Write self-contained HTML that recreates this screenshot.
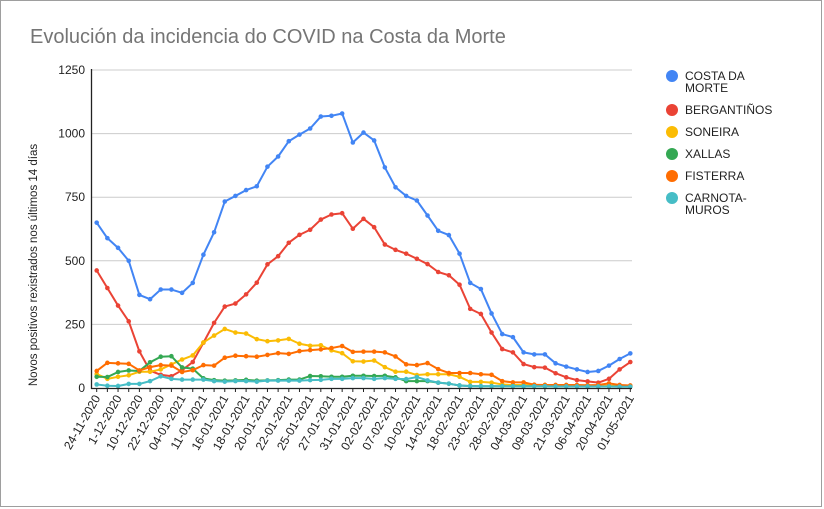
<!DOCTYPE html>
<html><head><meta charset="utf-8"><style>
html,body{margin:0;padding:0;background:#fff;}
svg{display:block;font-family:"Liberation Sans",Arial,sans-serif;}
</style></head><body>
<svg id="chart" width="824" height="509" viewBox="0 0 824 509">
<rect x="0.5" y="0.5" width="821" height="506" fill="#fff" stroke="#9e9e9e"/>
<text x="30" y="43" font-size="20" fill="#757575">Evolución da incidencia do COVID na Costa da Morte</text>
<text transform="translate(37,265) rotate(-90)" text-anchor="middle" font-size="11.5" fill="#222">Novos positivos rexistrados nos últimos 14 días</text>
<g id="grid"></g><g id="series"></g><g id="axes"></g><g id="legend"></g>
</svg>
<script>
const labels=["24-11-2020","1-12-2020","10-12-2020","22-12-2020","04-01-2021","11-01-2021","16-01-2021","18-01-2021","20-01-2021","22-01-2021","25-01-2021","27-01-2021","31-01-2021","02-02-2021","07-02-2021","10-02-2021","14-02-2021","18-02-2021","23-02-2021","28-02-2021","04-03-2021","09-03-2021","21-03-2021","06-04-2021","20-04-2021","01-05-2021"];
const yTicks=[0,250,500,750,1000,1250];
const seriesNames=["COSTA DA MORTE","BERGANTIÑOS","SONEIRA","XALLAS","FISTERRA","CARNOTA-MUROS"];
const costaDaMorte=[650,589,551,500,366,349,387,387,374,413,524,612,733,755,778,793,870,910,970,996,1020,1067,1070,1079,965,1004,973,867,789,755,737,678,618,601,528,413,389,293,212,200,140,132,132,97,84,73,63,67,88,114,136];
const bergantinos=[462,393,324,262,144,68,52,46,70,102,178,256,320,332,368,414,486,518,571,602,622,662,682,687,626,665,632,564,543,528,508,487,456,443,406,311,291,218,153,140,94,82,80,58,42,31,26,21,36,73,102];
const soneira=[55,36,44,50,64,64,73,93,112,128,179,206,232,218,214,192,184,187,193,174,166,168,148,137,105,104,108,82,64,64,51,54,54,54,44,24,24,21,14,12,12,12,12,11,11,10,10,10,9,8,8];
const xallas=[44,43,63,69,67,101,123,125,81,76,38,31,29,30,32,29,30,31,33,33,47,46,44,44,48,48,47,48,42,27,27,27,21,17,10,8,7,7,7,7,7,7,7,7,7,7,6,6,6,6,6];
const fisterra=[67,99,97,95,69,82,90,88,63,70,90,88,119,127,125,123,130,137,134,145,149,152,157,165,142,143,143,140,124,93,90,98,74,59,59,59,54,52,27,22,22,13,12,12,12,12,11,12,18,12,10];
const carnota=[14,9,8,16,16,27,46,36,33,33,33,27,25,27,27,25,29,29,29,29,31,32,36,36,39,39,36,39,36,35,43,30,21,17,10,7,7,7,7,7,7,7,7,6,6,6,6,6,6,5,5];
const seriesData=[costaDaMorte,bergantinos,soneira,xallas,fisterra,carnota];
const colors=["#4285f4","#ea4335","#fbbc04","#34a853","#ff6d01","#46bdc6"];
const NS="http://www.w3.org/2000/svg";
const X0=96.7,X1=630.3,Y0=388,Y1=70;
const n=costaDaMorte.length;
const xs=i=>X0+(X1-X0)*i/(n-1);
const ys=v=>Y0-(Y0-Y1)*v/1250;
function mk(t,a,p){const e=document.createElementNS(NS,t);for(const k in a)e.setAttribute(k,a[k]);p.appendChild(e);return e;}
const grid=document.getElementById('grid'),axes=document.getElementById('axes'),ser=document.getElementById('series'),leg=document.getElementById('legend');
yTicks.forEach(v=>{
  if(v>0){const l=mk('line',{x1:91,x2:632,y1:ys(v),y2:ys(v),stroke:'#ccc','stroke-width':1},grid);
  
  }
  const t=mk('text',{x:85,y:ys(v)+4,'text-anchor':'end','font-size':12,fill:'#222'},axes);t.textContent=v;
  
  
});
const ya=mk('line',{x1:91.5,x2:91.5,y1:Y1-1,y2:Y0+1,stroke:'#222','stroke-width':1.3},axes);


const xa=mk('line',{x1:91,x2:632,y1:Y0+0.5,y2:Y0+0.5,stroke:'#222','stroke-width':1.3},axes);


for(let i=0;i<n;i++){const tk=mk('line',{x1:xs(i),x2:xs(i),y1:Y0,y2:Y0+4,stroke:'#222'},axes);

}
labels.forEach((lb,j)=>{const x=xs(j*2);
  const t=mk('text',{transform:`translate(${x+4},${Y0+10}) rotate(-60)`,'text-anchor':'end','font-size':12,fill:'#222'},axes);t.textContent=lb;
  
  
});
seriesData.forEach((d,s)=>{
  const g=mk('g',{},ser);
  
  
  const pl=mk('polyline',{points:d.map((v,i)=>xs(i)+','+ys(v)).join(' '),fill:'none',stroke:colors[s],'stroke-width':2,'stroke-linejoin':'round'},g);
  
  
  d.forEach((v,i)=>{const c=mk('circle',{cx:xs(i),cy:ys(v),r:2.3,fill:colors[s]},g);
  
  });
});
const legY=[76,110,132,154,176,198];
seriesNames.forEach((nm,s)=>{
  const g=mk('g',{},leg);
  
  
  mk('circle',{cx:672,cy:legY[s],r:6,fill:colors[s]},g);
  const parts=nm==="COSTA DA MORTE"?["COSTA DA","MORTE"]:nm==="CARNOTA-MUROS"?["CARNOTA-","MUROS"]:[nm];
  parts.forEach((p,k)=>{const t=mk('text',{x:685,y:legY[s]+4+k*12,'font-size':12,fill:'#222'},g);t.textContent=p;});
});
</script>
</body></html>
